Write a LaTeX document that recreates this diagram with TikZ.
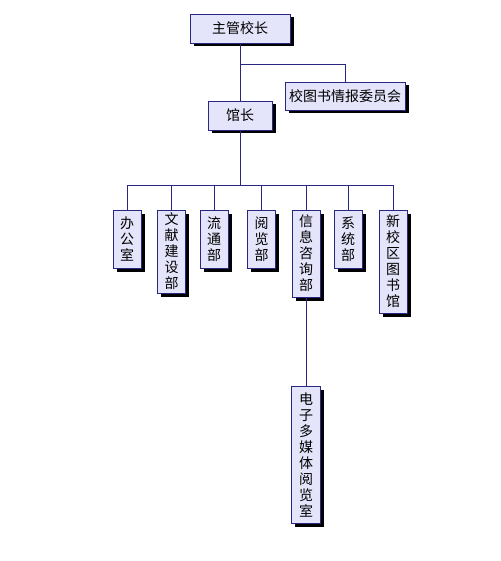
\documentclass[tikz,border=0pt]{standalone}
\usepackage{fontspec}
\setmainfont{Noto Sans CJK SC}
\usetikzlibrary{shadows}
\definecolor{boxfill}{RGB}{228,228,250}
\definecolor{boxline}{RGB}{40,40,130}
\begin{document}
\begin{tikzpicture}[x=1pt,y=-1pt,
  box/.style={draw=boxline,line width=0.8pt,fill=boxfill,inner sep=0pt,
    drop shadow={shadow xshift=3.5pt,shadow yshift=-3.5pt,fill=black,opacity=1},
    font=\fontsize{14}{16}\selectfont},
  col/.style={box,minimum width=28pt,align=center},
  link/.style={draw=boxline,line width=0.8pt}]
\useasboundingbox (0,0) rectangle (500,561);

\node[box,minimum width=100pt,minimum height=29pt] (zg) at (240,28.5) {主管校长};
\node[box,minimum width=120pt,minimum height=28pt] (wyh) at (345,96) {校图书情报委员会};
\node[box,minimum width=64pt,minimum height=29pt] (gz) at (240,115.5) {馆长};

\node[col,minimum height=58pt] (bgs) at (127,239) {办\\公\\室};
\node[col,minimum height=83pt] (wxjs) at (171.5,251.5) {文\\献\\建\\设\\部};
\node[col,minimum height=58pt] (lt) at (214,239) {流\\通\\部};
\node[col,minimum height=58pt] (yl) at (261.5,239) {阅\\览\\部};
\node[col,minimum height=87pt] (xxzx) at (306,253.5) {信\\息\\咨\\询\\部};
\node[col,minimum height=58pt] (xt) at (348,239) {系\\统\\部};
\node[col,minimum height=103pt] (xxq) at (393,261.5) {新\\校\\区\\图\\书\\馆};

\node[col,minimum width=29pt,minimum height=137pt] (dz) at (306,454.5) {电\\子\\多\\媒\\体\\阅\\览\\室};

\coordinate (fork) at (240,64);
\coordinate (bus) at (240,185);

\draw[link] (zg.south) -- (gz.north);
\draw[link] (fork) -| (wyh.north);
\foreach \n in {bgs,wxjs,lt,yl,xxzx,xt,xxq}
  \draw[link] (gz.south) -- (bus) -| (\n.north);
\draw[link] (xxzx.south) -- (dz.north);
\end{tikzpicture}
\end{document}
